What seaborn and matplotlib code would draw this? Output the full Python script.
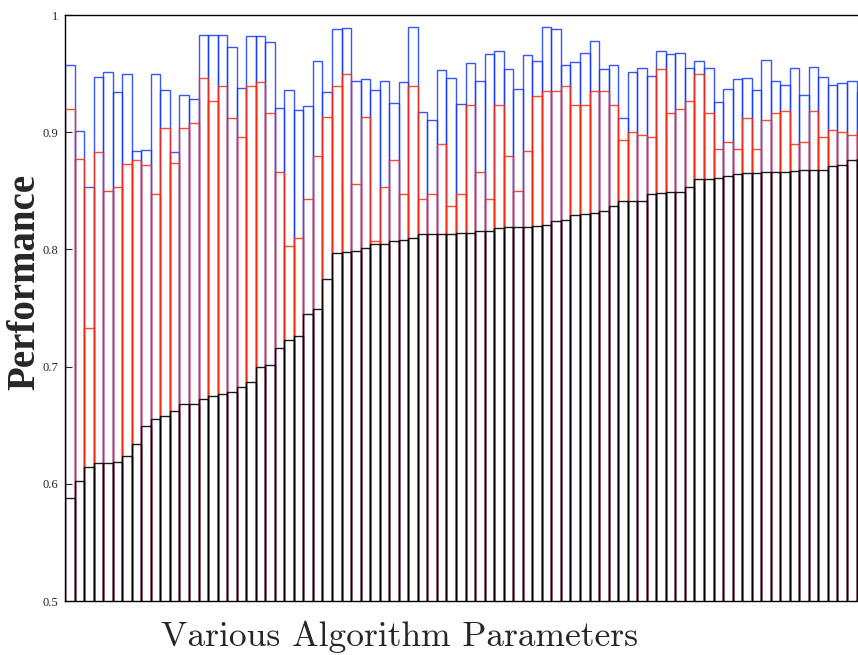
import numpy as np
import pandas as pd
import matplotlib
matplotlib.use("Agg")
import matplotlib.pyplot as plt
import seaborn as sns

### data ###
upper = [0.957, 0.901, 0.853, 0.947, 0.951, 0.934, 0.950, 0.884, 0.885, 0.950, 0.936, 0.883, 0.932, 0.928,
         0.983, 0.983, 0.983, 0.973, 0.938, 0.982, 0.982, 0.977, 0.921, 0.936, 0.919, 0.922, 0.961, 0.934,
         0.988, 0.989, 0.944, 0.945, 0.936, 0.944, 0.925, 0.943, 0.990, 0.917, 0.910, 0.953, 0.946, 0.924,
         0.959, 0.944, 0.967, 0.969, 0.954, 0.937, 0.966, 0.961, 0.990, 0.988, 0.957, 0.960, 0.968, 0.978,
         0.954, 0.957, 0.912, 0.951, 0.955, 0.948, 0.969, 0.967, 0.968, 0.955, 0.961, 0.955, 0.926, 0.937,
         0.945, 0.946, 0.936, 0.962, 0.944, 0.940, 0.955, 0.932, 0.956, 0.947, 0.940, 0.942, 0.944, 0.934]

middle = [0.920, 0.877, 0.733, 0.883, 0.850, 0.853, 0.873, 0.876, 0.872, 0.847, 0.904, 0.874, 0.904, 0.908,
          0.946, 0.927, 0.939, 0.912, 0.896, 0.939, 0.943, 0.916, 0.866, 0.803, 0.810, 0.843, 0.880, 0.913,
          0.939, 0.950, 0.856, 0.913, 0.807, 0.853, 0.876, 0.847, 0.939, 0.843, 0.847, 0.890, 0.837, 0.847,
          0.923, 0.866, 0.843, 0.923, 0.880, 0.850, 0.884, 0.931, 0.935, 0.935, 0.939, 0.923, 0.923, 0.935,
          0.935, 0.923, 0.893, 0.900, 0.898, 0.896, 0.954, 0.916, 0.920, 0.927, 0.950, 0.916, 0.886, 0.892,
          0.886, 0.912, 0.886, 0.910, 0.916, 0.918, 0.890, 0.892, 0.918, 0.896, 0.902, 0.900, 0.898, 0.902]

lower = [0.588, 0.602, 0.614, 0.618, 0.618, 0.619, 0.624, 0.634, 0.649, 0.655, 0.658, 0.662, 0.668, 0.668,
         0.672, 0.675, 0.677, 0.678, 0.683, 0.687, 0.700, 0.701, 0.716, 0.723, 0.726, 0.745, 0.749, 0.775,
         0.797, 0.798, 0.799, 0.801, 0.805, 0.805, 0.807, 0.808, 0.810, 0.813, 0.813, 0.813, 0.813, 0.814,
         0.814, 0.816, 0.816, 0.818, 0.819, 0.819, 0.819, 0.820, 0.821, 0.824, 0.825, 0.829, 0.830, 0.831,
         0.833, 0.837, 0.841, 0.841, 0.841, 0.847, 0.848, 0.849, 0.849, 0.853, 0.860, 0.860, 0.861, 0.863,
         0.864, 0.865, 0.865, 0.866, 0.866, 0.866, 0.867, 0.868, 0.868, 0.868, 0.871, 0.872, 0.876, 0.877]

yticks = [0.5, 0.6, 0.7, 0.8, 0.9, 1.0]
ytick_labels = ["0.5", "0.6", "0.7", "0.8", "0.9", "1"]

df = pd.DataFrame({"param": np.arange(len(lower)), "upper": upper, "middle": middle, "lower": lower})

### plot ###
sns.set_style("white")
fig = plt.figure(figsize=(8.58, 6.55), dpi=100)
ax = fig.add_axes([65 / 858, 54 / 655, 1 - 65 / 858, 586 / 655])

# outline bars drawn on top of each other
sns.barplot(data=df, x="param", y="upper", color="#1438ff", fill=False, width=1.0,
            linewidth=1.0, alpha=0.85, ax=ax)
sns.barplot(data=df, x="param", y="middle", color="#ff2a0a", fill=False, width=1.0,
            linewidth=1.0, alpha=0.85, ax=ax)
sns.barplot(data=df, x="param", y="lower", color="black", fill=False, width=1.0,
            linewidth=1.0, alpha=0.9, ax=ax)

ax.set_ylim(0.5, 1.0)
ax.set_xlim(-0.5, 82.65)
ax.set_yticks(yticks)
ax.set_yticklabels(ytick_labels, family="Liberation Serif", fontsize=9)
ax.set_xticks([])
ax.tick_params(axis="y", direction="in", length=5, width=0.8, pad=5, left=True)

for side in ["left", "bottom", "top"]:
    ax.spines[side].set_visible(True)
    ax.spines[side].set_color("black")
    ax.spines[side].set_linewidth(1.0)
ax.spines["right"].set_visible(False)

ax.set_xlabel("")
ax.set_ylabel("")
fig.text(25 / 858, 1 - 282 / 655, "Performance", rotation=90, ha="center", va="center",
         family="Liberation Serif", fontweight="bold", fontsize=28)
fig.text(400 / 858, 1 - 637 / 655, "Various Algorithm Parameters", ha="center", va="center",
         family="cmr10", fontsize=25.5)

fig.savefig("out.png", dpi=100)
